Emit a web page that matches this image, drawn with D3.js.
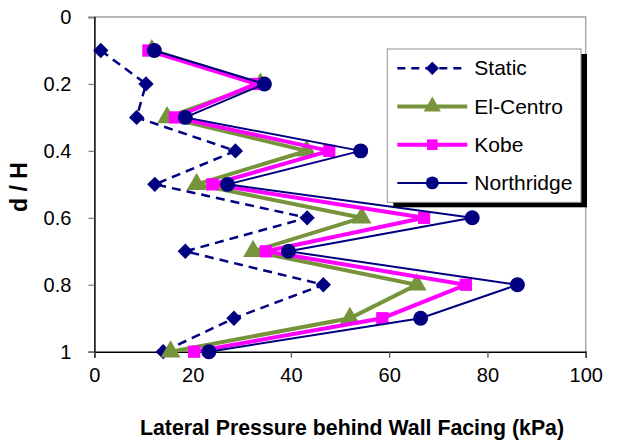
<!DOCTYPE html>
<html>
<head>
<meta charset="utf-8">
<script src="https://cdn.jsdelivr.net/npm/d3@7"></script>
<style>
  html, body { margin: 0; padding: 0; background: #fff; }
  svg { display: block; font-family: Arial, "Liberation Sans", sans-serif; }
</style>
</head>
<body>
<svg id="chart" width="618" height="440"></svg>
<script>
// Relative depth d/H of each measurement point behind the wall facing
const depths = [0.1, 0.2, 0.3, 0.4, 0.5, 0.6, 0.7, 0.8, 0.9, 1.0];

// Lateral pressure (kPa) for each loading case
const staticPressure     = [1.3, 10.5, 8.6, 28.7, 12.3, 43.3, 18.5, 46.6, 28.4, 14.0];
const elCentroPressure   = [11.7, 33.8, 14.8, 43.2, 20.8, 54.4, 32.3, 65.6, 52.0, 15.5];
const kobePressure       = [11.0, 32.9, 16.4, 47.8, 24.0, 67.1, 34.9, 75.6, 58.6, 20.3];
const northridgePressure = [12.2, 34.6, 18.5, 54.2, 27.1, 76.9, 39.5, 86.1, 66.4, 23.3];

const seriesNames = ["Static", "El-Centro", "Kobe", "Northridge"];
const xTicks = [0, 20, 40, 60, 80, 100];
const yTicks = [0, 0.2, 0.4, 0.6, 0.8, 1];

const series = [
  { name: seriesNames[0], values: staticPressure,     color: "#000080", width: 2.5, dash: "9,6", marker: "diamond",  size: 150 },
  { name: seriesNames[1], values: elCentroPressure,   color: "#77933C", width: 4,   dash: null,  marker: "triangle", size: 170 },
  { name: seriesNames[2], values: kobePressure,       color: "#FF00FF", width: 4,   dash: null,  marker: "square",   size: 150 },
  { name: seriesNames[3], values: northridgePressure, color: "#000080", width: 2,   dash: null,  marker: "circle",   size: 175 }
];

const symbolTypes = {
  diamond: d3.symbolDiamond2 || d3.symbolDiamond,
  triangle: d3.symbolTriangle,
  square: d3.symbolSquare,
  circle: d3.symbolCircle
};

const svg = d3.select("#chart");
const plotLeft = 94.4, plotRight = 585.7, plotTop = 17, plotBottom = 351.7;

const x = d3.scaleLinear().domain([0, 100]).range([plotLeft, plotRight]);
const y = d3.scaleLinear().domain([0, 1]).range([plotTop, plotBottom]);

// Plot-area frame (top and right edges)
svg.append("path")
  .attr("d", `M${plotLeft},${plotTop}H${plotRight}V${plotBottom}`)
  .attr("fill", "none")
  .attr("stroke", "#a0a0a0")
  .attr("stroke-width", 1.3);

// Y axis (depth increases downward)
const yAxis = svg.append("g")
  .attr("transform", `translate(${plotLeft},0)`)
  .call(d3.axisLeft(y).tickValues(yTicks).tickSize(6).tickPadding(17)
    .tickFormat(d => String(+d.toFixed(1))));
yAxis.select(".domain").attr("stroke", "#000").attr("stroke-width", 1.5);
yAxis.selectAll(".tick line").attr("stroke", "#888").attr("stroke-width", 1.3);
yAxis.selectAll(".tick text")
  .attr("font-size", 20).attr("fill", "#000")
  .attr("font-family", "Arial, 'Liberation Sans', sans-serif");

// X axis
const xAxis = svg.append("g")
  .attr("transform", `translate(0,${plotBottom})`)
  .call(d3.axisBottom(x).tickValues(xTicks).tickSize(6).tickPadding(10));
xAxis.select(".domain").attr("stroke", "#000").attr("stroke-width", 1.5);
xAxis.selectAll(".tick line").attr("stroke", "#555").attr("stroke-width", 1.3);
xAxis.selectAll(".tick text")
  .attr("font-size", 20).attr("fill", "#000")
  .attr("font-family", "Arial, 'Liberation Sans', sans-serif");

// Axis titles
svg.append("text")
  .attr("x", 352).attr("y", 435)
  .attr("text-anchor", "middle")
  .attr("font-size", 21.3).attr("font-weight", "bold")
  .text("Lateral Pressure behind Wall Facing (kPa)");

svg.append("text")
  .attr("transform", "translate(26.5,187) rotate(-90)")
  .attr("text-anchor", "middle")
  .attr("font-size", 23).attr("font-weight", "bold")
  .text("d / H");

// Series lines and markers
const line = d3.line()
  .x(d => x(d.v))
  .y(d => y(d.d));

series.forEach(s => {
  const pts = s.values.map((v, i) => ({ v, d: depths[i] }));
  const g = svg.append("g");
  g.append("path")
    .datum(pts)
    .attr("d", line)
    .attr("fill", "none")
    .attr("stroke", s.color)
    .attr("stroke-width", s.width)
    .attr("stroke-dasharray", s.dash)
    .attr("stroke-linejoin", "miter");
  g.selectAll("path.mark")
    .data(pts)
    .join("path")
    .attr("class", "mark")
    .attr("transform", d => `translate(${x(d.v)},${y(d.d)})`)
    .attr("d", d3.symbol().type(symbolTypes[s.marker]).size(s.size))
    .attr("fill", s.color);
});

// Legend with drop shadow
const lg = { x: 387.3, y: 49, w: 193.7, h: 153.3 };
svg.append("rect")
  .attr("x", lg.x + 6).attr("y", lg.y + 5)
  .attr("width", lg.w).attr("height", lg.h)
  .attr("fill", "#000");
svg.append("rect")
  .attr("x", lg.x).attr("y", lg.y)
  .attr("width", lg.w).attr("height", lg.h)
  .attr("fill", "#fff")
  .attr("stroke", "#909090").attr("stroke-width", 1);

series.forEach((s, i) => {
  const cy = 68.3 + i * 38.2;
  const g = svg.append("g");
  g.append("line")
    .attr("x1", 397.3).attr("x2", 467.3)
    .attr("y1", cy).attr("y2", cy)
    .attr("stroke", s.color)
    .attr("stroke-width", s.width)
    .attr("stroke-dasharray", s.dash ? "8,6" : null);
  g.append("path")
    .attr("transform", `translate(432.3,${cy})`)
    .attr("d", d3.symbol().type(symbolTypes[s.marker]).size(s.size * 0.75))
    .attr("fill", s.color);
  g.append("text")
    .attr("x", 474.3).attr("y", cy + 7)
    .attr("font-size", 21).attr("fill", "#000")
    .text(s.name);
});
</script>
</body>
</html>
